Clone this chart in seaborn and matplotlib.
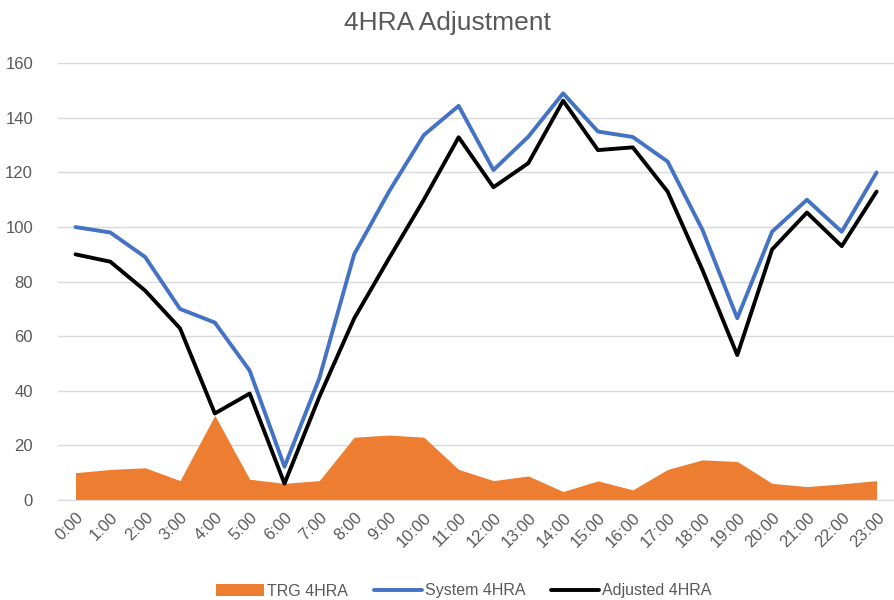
import pandas as pd
import matplotlib
matplotlib.use("Agg")
import matplotlib.pyplot as plt
import seaborn as sns

hours = [f"{h}:00" for h in range(24)]
trg = [10, 11.2, 11.8, 7.1, 31, 7.6, 6.1, 7.1, 23, 23.8, 23, 11.2,
       7.1, 8.8, 3.1, 7, 3.7, 11.2, 14.7, 14.1, 6.1, 4.9, 5.9, 7.1]
system = [100, 98, 89, 70, 65, 47.4, 12.2, 44.6, 90, 113, 133.7, 144.4,
          120.9, 133.1, 149, 135, 133, 124, 99, 66.6, 98.3, 110, 98.3, 120]
adjusted = [90, 87.3, 76.7, 62.9, 31.7, 39, 6, 37.8, 66.5, 88.5, 110, 132.9,
            114.6, 123.4, 146.3, 128.2, 129.2, 113, 84.3, 53.1, 91.8, 105.3, 93, 113]

df = pd.DataFrame({"pos": range(len(hours)), "hour": hours,
                   "TRG 4HRA": trg, "System 4HRA": system, "Adjusted 4HRA": adjusted})

sns.set_style("white")
plt.rcParams["font.family"] = ["Liberation Sans", "DejaVu Sans"]
grey = "#595959"

fig = plt.figure(figsize=(8.94, 6.0), dpi=100)
ax = fig.add_axes([0.065, 0.1667, 0.935, 0.7278])

ax.fill_between(df["pos"], 0, df["TRG 4HRA"], color="#ED7D31", linewidth=0,
                label="TRG 4HRA", zorder=2)
sns.lineplot(data=df, x="pos", y="System 4HRA", ax=ax, color="#4472C4",
             linewidth=2.8, label="System 4HRA", zorder=3)
sns.lineplot(data=df, x="pos", y="Adjusted 4HRA", ax=ax, color="black",
             linewidth=2.8, label="Adjusted 4HRA", zorder=4)

ax.set_xlim(-0.5, 23.5)
ax.set_ylim(0, 160)
ax.set_yticks(range(0, 161, 20))
ax.set_xticks(df["pos"])
ax.set_xticklabels(hours, rotation=45, ha="right", rotation_mode="anchor")
ax.tick_params(axis="both", colors=grey, labelsize=12, length=0)
ax.tick_params(axis="y", pad=18)
ax.tick_params(axis="x", pad=7)
ax.grid(axis="y", color="#D9D9D9", linewidth=1)
ax.set_axisbelow(True)
for s in ["top", "right", "left"]:
    ax.spines[s].set_visible(False)
ax.spines["bottom"].set_color("#D9D9D9")
ax.set_xlabel("")
ax.set_ylabel("")

fig.suptitle("4HRA Adjustment", y=0.982, fontsize=19, color=grey)

handles, labels = ax.get_legend_handles_labels()
order = [labels.index(l) for l in ["TRG 4HRA", "System 4HRA", "Adjusted 4HRA"]]
ax.legend([handles[i] for i in order], [labels[i] for i in order],
          loc="center", bbox_to_anchor=(0.519, 0.015), bbox_transform=fig.transFigure,
          ncol=3, frameon=False, fontsize=11.5, labelcolor=grey,
          handlelength=3.0, columnspacing=1.6, handletextpad=0.2)

fig.savefig("out.png", dpi=100)
